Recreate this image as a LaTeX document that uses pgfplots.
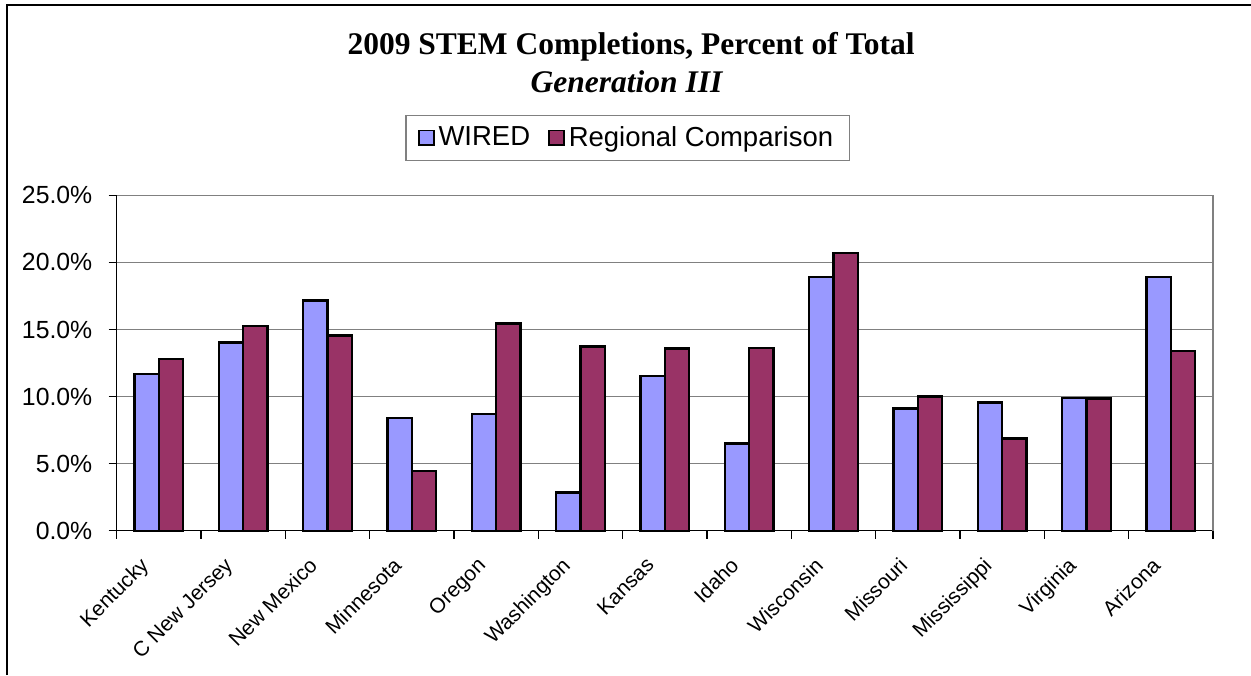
\documentclass[border=0pt]{standalone}
\usepackage{pgfplots}
\pgfplotsset{compat=1.18}
\usepackage{fontspec}
\setmainfont{Liberation Sans}
\newfontfamily\titlefont{Liberation Serif}

\definecolor{wired}{HTML}{9999FF}
\definecolor{regional}{HTML}{993366}
\definecolor{gridgray}{HTML}{808080}

\begin{document}
\begin{tikzpicture}
  \begin{scope}[x=0.5pt,y=0.5pt]
    \useasboundingbox (0,0) rectangle (1251,675);
    % outer chart frame (left and top edges)
    \draw[line width=1pt] (6.7,0) -- (6.7,670) -- (1251,670);
    % titles
    \node[anchor=base, font=\titlefont\fontsize{15.75}{18}\selectfont\bfseries]
      at (631,620) {2009 STEM Completions, Percent of Total};
    \node[anchor=base, font=\titlefont\fontsize{15.75}{18}\selectfont\bfseries\itshape]
      at (626.5,582.3) {Generation III};
    \coordinate (plotorigin) at (116.7,144.3);
  \end{scope}

  \begin{axis}[
    at={(plotorigin)}, anchor=south west,
    scale only axis,
    width=548.15pt, height=167.7pt,
    xmin=-0.5, xmax=12.5,
    ymin=0, ymax=25,
    ybar=0pt,
    bar width=12.2pt,
    xtick={0,...,12},
    xticklabels={Kentucky, C New Jersey, New Mexico, Minnesota, Oregon, Washington, Kansas, Idaho, Wisconsin, Missouri, Mississippi, Virginia, Arizona},
    minor xtick={-0.5,0.5,...,12.5},
    major x tick style={draw=none},
    minor tick length=4pt,
    tick align=outside,
    ytick={0,5,10,15,20,25},
    yticklabels={0.0\%, 5.0\%, 10.0\%, 15.0\%, 20.0\%, 25.0\%},
    major tick length=4pt,
    ymajorgrids,
    major grid style={gridgray, line width=0.6pt},
    axis x line*=bottom,
    axis y line*=left,
    axis line style={black, line width=0.6pt, -},
    tick style={black, line width=0.6pt},
    xticklabel style={xshift=-10pt, yshift=-8.5pt, rotate=45, anchor=north east,
      inner sep=0pt, font=\fontsize{10.5}{12}\selectfont},
    yticklabel style={font=\fontsize{12.4}{14}\selectfont, inner sep=0pt, xshift=-8pt},
    legend columns=2,
    legend style={at={(0.466,1.171)}, anchor=center, draw=gridgray,
      line width=0.6pt,
      font=\fontsize{13.75}{16}\selectfont,
      inner xsep=6pt, inner ysep=3.5pt,
      /tikz/every even column/.append style={column sep=7pt}},
    legend image code/.code={\draw[#1, line width=0.9pt] (0pt,-3.7pt) rectangle (7.4pt,3.7pt);},
    clip=false,
  ]
    \addplot[draw=black, fill=wired, line width=1.2pt] coordinates {
      (0,11.70) (1,14.04) (2,17.17) (3,8.40) (4,8.72) (5,2.86) (6,11.51)
      (7,6.51) (8,18.91) (9,9.10) (10,9.57) (11,9.87) (12,18.91)};
    \addplot[draw=black, fill=regional, line width=1.2pt] coordinates {
      (0,12.82) (1,15.28) (2,14.56) (3,4.47) (4,15.43) (5,13.72) (6,13.57)
      (7,13.62) (8,20.70) (9,10.01) (10,6.88) (11,9.85) (12,13.39)};
    \legend{WIRED, Regional Comparison}
    % plot area right edge
    \draw[gridgray, line width=0.6pt] (rel axis cs:1,0) -- (rel axis cs:1,1);
  \end{axis}
\end{tikzpicture}
\end{document}
